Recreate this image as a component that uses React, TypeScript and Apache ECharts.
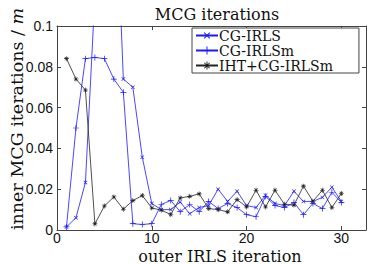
import React, { useEffect, useRef } from "react";
import * as echarts from "echarts";

const iterations = [1,2,3,4,5,6,7,8,9,10,11,12,13,14,15,16,17,18,19,20,21,22,23,24,25,26,27,28,29,30];
const cgIrls = [0.0015,0.006,0.0233,0.115,0.16,0.19,0.074,0.070,0.0357,0.013,0.010,0.010,0.0137,0.008,0.011,0.012,0.020,0.014,0.019,0.012,0.011,0.017,0.013,0.012,0.019,0.014,0.014,0.016,0.021,0.014];
const cgIrlsM = [0.0015,0.050,0.084,0.0846,0.084,0.074,0.0675,0.0031,0.0027,0.0031,0.0125,0.0145,0.009,0.0125,0.009,0.014,0.0105,0.013,0.011,0.0075,0.0065,0.0165,0.012,0.011,0.0135,0.0075,0.013,0.0105,0.0185,0.0135];
const ihtCgIrlsM = [0.084,0.074,0.0686,0.003,0.0118,0.0162,0.0102,0.0144,0.0169,0.0108,0.0097,0.0076,0.0157,0.0165,0.0177,0.0105,0.0100,0.0089,0.0149,0.0113,0.0195,0.0113,0.0195,0.0126,0.0122,0.0215,0.0141,0.0195,0.011,0.0179];
const xTickLabels = [0, 10, 20, 30];
const seriesNames = ["CG-IRLS", "CG-IRLSm", "IHT+CG-IRLSm"];

const PLUS = "path://M4.4,0H5.6V4.4H10V5.6H5.6V10H4.4V5.6H0V4.4H4.4Z";
const STAR = "path://M4.4,0H5.6V4.4H10V5.6H5.6V10H4.4V5.6H0V4.4H4.4Z M1.2,2L2,1.2L5,4.2L8,1.2L8.8,2L5.8,5L8.8,8L8,8.8L5,5.8L2,8.8L1.2,8L4.2,5Z";

const BLUE = "#1a1aff";
const BLACK = "#222222";
const AXIS = "#444444";
const SERIF = "'DejaVu Serif', serif";
const SANS = "'Liberation Sans', Arial, sans-serif";

export default function App() {
  const ref = useRef<HTMLDivElement>(null);
  useEffect(() => {
    if (!ref.current) return;
    const chart = echarts.init(ref.current, undefined, { renderer: "svg" });
    const pairs = (ys: number[]) => iterations.map((x, i) => [x, ys[i]]);
    chart.setOption({
      animation: false,
      backgroundColor: "#ffffff",
      title: {
        text: "MCG iterations",
        left: 212,
        top: 1,
        textAlign: "center",
        textStyle: { fontFamily: SERIF, fontSize: 16, fontWeight: "normal", color: "#111" },
      },
      legend: {
        orient: "vertical",
        left: 192,
        top: 28,
        itemWidth: 22,
        itemHeight: 10,
        itemGap: 0,
        padding: [0, 26, 0, 3],
        backgroundColor: "#ffffff",
        borderColor: AXIS,
        borderWidth: 1,
        borderRadius: 0,
        textStyle: { fontFamily: SERIF, fontSize: 14, color: "#111", lineHeight: 15, padding: [0, 0, 0, -4] },
        data: seriesNames,
      },
      grid: { left: 57, top: 26, right: 8, bottom: 34, containLabel: false },
      graphic: [
        {
          type: "text",
          x: 17,
          y: 119,
          rotation: Math.PI / 2,
          style: {
            text: "inner MCG iterations / {i|m}",
            fontFamily: SERIF,
            fontSize: 17.5,
            fill: "#111",
            align: "center",
            verticalAlign: "middle",
            rich: { i: { fontFamily: SERIF, fontStyle: "italic", fontSize: 17.5, fill: "#111", color: "#111" } },
          },
        },
        {
          type: "text",
          x: 220,
          y: 256,
          style: {
            text: "outer IRLS iteration",
            fontFamily: SERIF,
            fontSize: 16,
            fill: "#111",
            align: "center",
            verticalAlign: "middle",
          },
        },
      ],
      xAxis: [
        {
          type: "value",
          min: 0,
          max: 32.6,
          interval: 10,
          axisLine: { show: true, lineStyle: { color: AXIS, width: 1 } },
          axisTick: { show: true, inside: true, length: 4, customValues: [10, 20, 30], lineStyle: { color: AXIS } },
          axisLabel: { customValues: xTickLabels, fontFamily: SANS, fontSize: 14, color: "#111", margin: 1, lineHeight: 14 },
          splitLine: { show: false },
        },
        {
          type: "value",
          position: "top",
          min: 0,
          max: 32.6,
          interval: 10,
          axisLine: { show: true, onZero: false, lineStyle: { color: AXIS, width: 1 } },
          axisTick: { show: true, inside: true, length: 4, customValues: [10, 20, 30], lineStyle: { color: AXIS } },
          axisLabel: { show: false },
          splitLine: { show: false },
        },
      ],
      yAxis: [
        {
          type: "value",
          min: 0,
          max: 0.1,
          interval: 0.02,
          axisLine: { show: true, lineStyle: { color: AXIS, width: 1 } },
          axisTick: { show: true, inside: true, length: 4, lineStyle: { color: AXIS } },
          axisLabel: { fontFamily: SANS, fontSize: 14, color: "#111", margin: 4 },
          splitLine: { show: false },
        },
        {
          type: "value",
          position: "right",
          min: 0,
          max: 0.1,
          interval: 0.02,
          axisLine: { show: true, onZero: false, lineStyle: { color: AXIS, width: 1 } },
          axisTick: { show: true, inside: true, length: 4, lineStyle: { color: AXIS } },
          axisLabel: { show: false },
          splitLine: { show: false },
        },
      ],
      series: [
        {
          name: seriesNames[0],
          type: "line",
          data: pairs(cgIrls),
          symbol: PLUS,
          symbolRotate: 45,
          symbolSize: 5,
          lineStyle: { color: BLUE, width: 0.8 },
          itemStyle: { color: BLUE },
          clip: true,
        },
        {
          name: seriesNames[1],
          type: "line",
          data: pairs(cgIrlsM),
          symbol: PLUS,
          symbolSize: 6,
          lineStyle: { color: BLUE, width: 0.8 },
          itemStyle: { color: BLUE },
          clip: true,
        },
        {
          name: seriesNames[2],
          type: "line",
          data: pairs(ihtCgIrlsM),
          symbol: STAR,
          symbolSize: 5,
          lineStyle: { color: BLACK, width: 0.8 },
          itemStyle: { color: BLACK },
          clip: true,
        },
      ],
    });
    return () => chart.dispose();
  }, []);
  return <div ref={ref} style={{ width: 374, height: 264, position: "fixed", left: 0, top: 0 }} />;
}
